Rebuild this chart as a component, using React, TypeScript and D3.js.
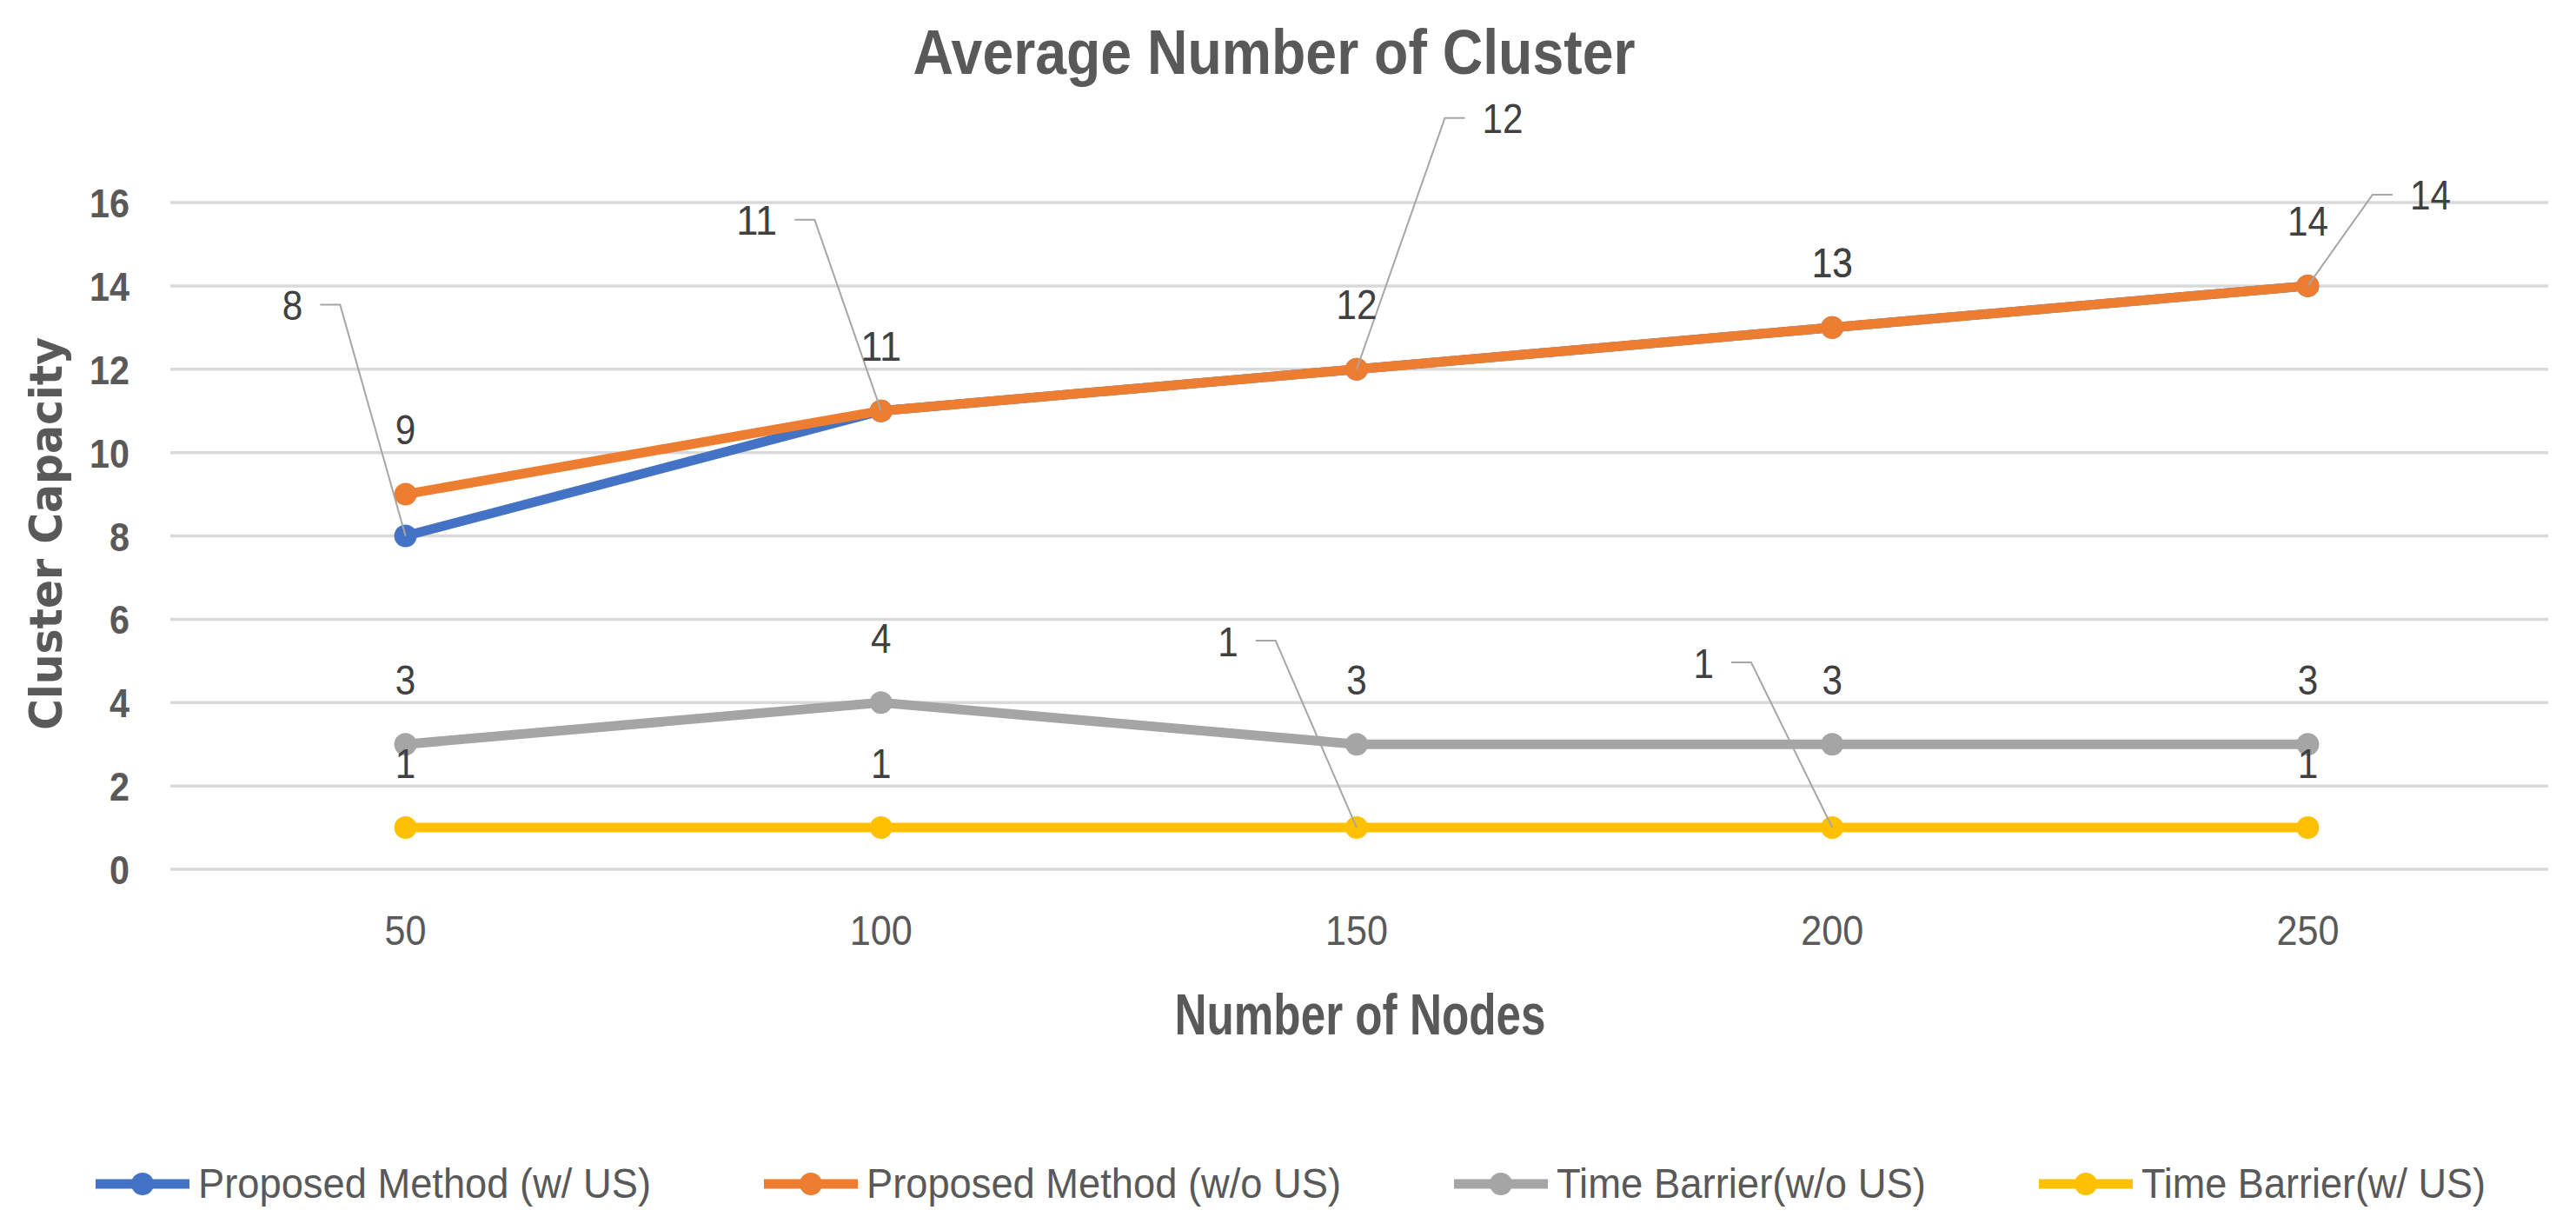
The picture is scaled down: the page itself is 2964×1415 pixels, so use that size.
import * as d3 from 'd3'
import { useEffect, useRef } from 'react'

const nodes = ['50', '100', '150', '200', '250']
const proposedWithUS = [8, 11, 12, 13, 14]
const proposedWithoutUS = [9, 11, 12, 13, 14]
const timeBarrierWithoutUS = [3, 4, 3, 3, 3]
const timeBarrierWithUS = [1, 1, 1, 1, 1]
const yTicks = [0, 2, 4, 6, 8, 10, 12, 14, 16]

const seriesNames = ['Proposed Method (w/ US)', 'Proposed Method (w/o US)', 'Time Barrier(w/o US)', 'Time Barrier(w/ US)']
const seriesColors = ['#4472C4', '#ED7D31', '#A5A5A5', '#FFC000']

// data labels that were dragged away from their point: [dx, dy] of label centre, null = default spot
const labelMoves = [
    [[-130, -266], [-143, -220], [168, -289], null, [141, -105]],
    [null, null, null, null, null],
    [null, null, null, null, null],
    [null, null, [-148, -215], [-148, -190], null],
]
const legendTextWidths = [521, 546, 425, 396]

const W = 2964
const H = 1415
const narrow = '"Liberation Sans Narrow", "Liberation Sans", Arial, sans-serif'

export default function App() {
    const svgRef = useRef<SVGSVGElement>(null)

    useEffect(() => {
        makeChart(svgRef)
    }, [])

    function makeChart(svgRef: React.RefObject<SVGSVGElement>) {
        const svg = d3.select(svgRef.current)
        svg.selectAll('*').remove()

        const left = 193
        const right = 2929
        const top = 233
        const bottom = 1000

        const x = d3.scalePoint<string>().domain(nodes).range([left, right]).padding(0.5)
        const y = d3.scaleLinear().domain([0, 16]).range([bottom, top])

        svg.append('rect').attr('width', W).attr('height', H).attr('fill', '#fff')

        // title
        svg.append('text')
            .attr('x', 1466).attr('y', 85)
            .attr('text-anchor', 'middle')
            .attr('font-family', narrow).attr('font-weight', 'bold').attr('font-size', 72)
            .attr('fill', '#595959')
            .attr('textLength', 831).attr('lengthAdjust', 'spacingAndGlyphs')
            .text('Average Number of Cluster')

        // gridlines + y ticks
        const yAxis = svg.append('g')
        yAxis.selectAll('line')
            .data(yTicks)
            .enter()
            .append('line')
            .attr('x1', left + 3).attr('x2', right + 3)
            .attr('y1', d => y(d)).attr('y2', d => y(d))
            .attr('stroke', '#D9D9D9').attr('stroke-width', 3.5)
        yAxis.selectAll('text')
            .data(yTicks)
            .enter()
            .append('text')
            .attr('x', 149).attr('y', d => y(d) + 17)
            .attr('text-anchor', 'end')
            .attr('font-family', narrow).attr('font-weight', 'bold').attr('font-size', 47)
            .attr('fill', '#595959')
            .attr('textLength', d => 23 * String(d).length).attr('lengthAdjust', 'spacingAndGlyphs')
            .text(d => d)

        // x tick labels
        svg.append('g').selectAll('text')
            .data(nodes)
            .enter()
            .append('text')
            .attr('x', d => x(d)!).attr('y', 1087)
            .attr('text-anchor', 'middle')
            .attr('font-family', narrow).attr('font-size', 49)
            .attr('fill', '#595959')
            .attr('textLength', d => 24 * d.length).attr('lengthAdjust', 'spacingAndGlyphs')
            .text(d => d)

        // axis titles
        svg.append('text')
            .attr('x', 1565).attr('y', 1190)
            .attr('text-anchor', 'middle')
            .attr('font-family', narrow).attr('font-weight', 'bold').attr('font-size', 67)
            .attr('fill', '#595959')
            .attr('textLength', 427).attr('lengthAdjust', 'spacingAndGlyphs')
            .text('Number of Nodes')
        svg.append('text')
            .attr('transform', 'translate(71,614) rotate(-90)')
            .attr('text-anchor', 'middle')
            .attr('font-family', '"DejaVu Sans", Verdana, sans-serif').attr('font-weight', 'bold').attr('font-size', 52)
            .attr('fill', '#595959')
            .attr('textLength', 452).attr('lengthAdjust', 'spacingAndGlyphs')
            .text('Cluster Capacity')

        const allSeries = [proposedWithUS, proposedWithoutUS, timeBarrierWithoutUS, timeBarrierWithUS]
        const line = d3.line<number>().x((_, i) => x(nodes[i])!).y(d => y(d))

        const linesG = svg.append('g')
        allSeries.forEach((vals, si) => {
            linesG.append('path')
                .datum(vals)
                .attr('d', line)
                .attr('fill', 'none')
                .attr('stroke', seriesColors[si])
                .attr('stroke-width', 11)
                .attr('stroke-linejoin', 'round')
            linesG.selectAll(null)
                .data(vals)
                .enter()
                .append('circle')
                .attr('cx', (_, i) => x(nodes[i])!)
                .attr('cy', d => y(d))
                .attr('r', 13)
                .attr('fill', seriesColors[si])
        })

        // data labels
        const labelsG = svg.append('g')
        allSeries.forEach((vals, si) => {
            vals.forEach((v, i) => {
                const px = x(nodes[i])!
                const py = y(v)
                const txt = String(v)
                const w = 23.5 * txt.length
                const move = labelMoves[si][i]
                let cx = px
                let cy = py - 75
                if (move) {
                    cx = px + move[0]
                    cy = py + move[1]
                    const edge = move[0] < 0 ? cx + w / 2 + 20 : cx - w / 2 - 20
                    const knee = move[0] < 0 ? edge + 23 : edge - 23
                    labelsG.append('path')
                        .attr('d', `M${edge},${cy}L${knee},${cy}L${px},${py}`)
                        .attr('fill', 'none')
                        .attr('stroke', '#A6A6A6')
                        .attr('stroke-width', 2)
                }
                labelsG.append('text')
                    .attr('x', cx).attr('y', cy + 17.5)
                    .attr('text-anchor', 'middle')
                    .attr('font-family', narrow).attr('font-size', 49)
                    .attr('fill', '#404040')
                    .attr('textLength', w).attr('lengthAdjust', 'spacingAndGlyphs')
                    .text(txt)
            })
        })

        // legend
        const legend = svg.append('g')
        let lx = 110
        seriesNames.forEach((name, si) => {
            legend.append('line')
                .attr('x1', lx).attr('x2', lx + 108)
                .attr('y1', 1362).attr('y2', 1362)
                .attr('stroke', seriesColors[si]).attr('stroke-width', 11)
            legend.append('circle')
                .attr('cx', lx + 54).attr('cy', 1362).attr('r', 13)
                .attr('fill', seriesColors[si])
            legend.append('text')
                .attr('x', lx + 118).attr('y', 1378)
                .attr('font-family', narrow).attr('font-size', 49)
                .attr('fill', '#595959')
                .attr('textLength', legendTextWidths[si]).attr('lengthAdjust', 'spacingAndGlyphs')
                .text(name)
            lx += 118 + legendTextWidths[si] + 130
        })
    }

    return (
        <svg ref={svgRef} width={W} height={H}
            style={{ position: 'absolute', left: 0, top: 0, display: 'block' }}></svg>
    )
}
